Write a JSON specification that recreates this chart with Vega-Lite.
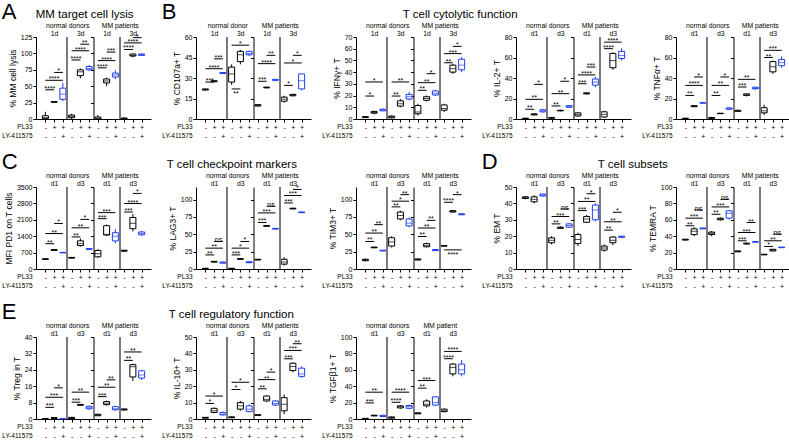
{
"$schema":"https://vega.github.io/schema/vega-lite/v6.json",
"padding":{"left":1,"top":0,"right":0,"bottom":0},
"config":{"font":"Liberation Sans","view":{"stroke":null},
"axis":{"domainColor":"#000","tickColor":"#000","labelColor":"#000","titleColor":"#000","labelFontSize":7,"titleFontSize":8.5,"titleFontWeight":"normal","tickSize":3,"grid":false,"labelPadding":1,"titlePadding":3},
"title":{"fontWeight":"normal","color":"#000","fontSize":11.5,"offset":2},
"concat":{"spacing":10},"rule":{"color":"#000"},"text":{"color":"#000"}},
"data":{"values":[
{"ch":"A","p":1,"c":"c","mn":0,"q1":0.5,"md":2,"q3":5,"mx":11},
{"ch":"A","p":2,"c":"p","mn":25,"q1":25.5,"md":26,"q3":26.5,"mx":27},
{"ch":"A","p":3,"c":"l","mn":27,"q1":30,"md":38,"q3":47,"mx":55},
{"ch":"A","p":4,"c":"c","mn":0,"q1":2,"md":4,"q3":6,"mx":8},
{"ch":"A","p":5,"c":"p","mn":62,"q1":66,"md":72,"q3":75,"mx":77},
{"ch":"A","p":6,"c":"l","mn":73,"q1":75,"md":77,"q3":80,"mx":82},
{"ch":"A","p":7,"c":"c","mn":0,"q1":0,"md":1,"q3":3,"mx":6},
{"ch":"A","p":8,"c":"p","mn":50,"q1":55,"md":58,"q3":61,"mx":63},
{"ch":"A","p":9,"c":"l","mn":61,"q1":64,"md":67,"q3":70,"mx":74},
{"ch":"A","p":10,"c":"c","mn":0,"q1":0,"md":1,"q3":1.5,"mx":2},
{"ch":"A","p":11,"c":"p","mn":94,"q1":96,"md":97,"q3":99,"mx":100},
{"ch":"A","p":12,"c":"l","mn":96,"q1":97,"md":98,"q3":99,"mx":100},
{"ch":"B1","p":1,"c":"c","mn":21,"q1":21.2,"md":21.5,"q3":22,"mx":22.3},
{"ch":"B1","p":2,"c":"p","mn":27,"q1":27.3,"md":27.7,"q3":28,"mx":28.3},
{"ch":"B1","p":3,"c":"l","mn":33,"q1":33.3,"md":33.7,"q3":34,"mx":34.3},
{"ch":"B1","p":4,"c":"c","mn":25,"q1":27,"md":33,"q3":38,"mx":40},
{"ch":"B1","p":5,"c":"p","mn":40,"q1":42,"md":47,"q3":49.5,"mx":50.5},
{"ch":"B1","p":6,"c":"l","mn":46,"q1":47,"md":48,"q3":49.5,"mx":50},
{"ch":"B1","p":7,"c":"c","mn":9,"q1":9.5,"md":10,"q3":10.5,"mx":11},
{"ch":"B1","p":8,"c":"p","mn":22.5,"q1":22.8,"md":23,"q3":23.3,"mx":23.6},
{"ch":"B1","p":9,"c":"l","mn":28,"q1":28.3,"md":28.6,"q3":29,"mx":29.3},
{"ch":"B1","p":10,"c":"c","mn":12,"q1":13,"md":14.5,"q3":16,"mx":17},
{"ch":"B1","p":11,"c":"p","mn":16.5,"q1":17,"md":17.5,"q3":18,"mx":18.5},
{"ch":"B1","p":12,"c":"l","mn":21,"q1":22,"md":28,"q3":33,"mx":33},
{"ch":"B2","p":1,"c":"c","mn":1,"q1":1.2,"md":1.5,"q3":2,"mx":2.5},
{"ch":"B2","p":2,"c":"p","mn":4,"q1":5,"md":5.5,"q3":6.5,"mx":7},
{"ch":"B2","p":3,"c":"l","mn":6.5,"q1":7,"md":7.7,"q3":8.3,"mx":9},
{"ch":"B2","p":4,"c":"c","mn":0.5,"q1":1,"md":1.8,"q3":2.5,"mx":3},
{"ch":"B2","p":5,"c":"p","mn":10,"q1":11,"md":13,"q3":15.5,"mx":17},
{"ch":"B2","p":6,"c":"l","mn":16,"q1":17,"md":19,"q3":21,"mx":23},
{"ch":"B2","p":7,"c":"c","mn":3,"q1":4.5,"md":6,"q3":11.5,"mx":13},
{"ch":"B2","p":8,"c":"p","mn":15,"q1":16,"md":17.5,"q3":19,"mx":20},
{"ch":"B2","p":9,"c":"l","mn":19.5,"q1":20.5,"md":22,"q3":24,"mx":25},
{"ch":"B2","p":10,"c":"c","mn":6,"q1":7.5,"md":9,"q3":12,"mx":13},
{"ch":"B2","p":11,"c":"p","mn":38.5,"q1":40,"md":43,"q3":46,"mx":47},
{"ch":"B2","p":12,"c":"l","mn":40,"q1":42,"md":46,"q3":51,"mx":53},
{"ch":"B3","p":1,"c":"c","mn":0,"q1":0.2,"md":0.5,"q3":0.8,"mx":1},
{"ch":"B3","p":2,"c":"p","mn":3.5,"q1":4,"md":4.5,"q3":5,"mx":5.5},
{"ch":"B3","p":3,"c":"l","mn":6,"q1":7,"md":8,"q3":9,"mx":10},
{"ch":"B3","p":4,"c":"c","mn":0.5,"q1":0.8,"md":1,"q3":1.5,"mx":2},
{"ch":"B3","p":5,"c":"p","mn":7.5,"q1":8,"md":8.2,"q3":8.5,"mx":9},
{"ch":"B3","p":6,"c":"l","mn":11,"q1":11.5,"md":12,"q3":13,"mx":13.5},
{"ch":"B3","p":7,"c":"c","mn":2,"q1":3,"md":4.5,"q3":6,"mx":7},
{"ch":"B3","p":8,"c":"p","mn":24,"q1":24.5,"md":25,"q3":25.5,"mx":26},
{"ch":"B3","p":9,"c":"l","mn":31,"q1":33,"md":36,"q3":39,"mx":41},
{"ch":"B3","p":10,"c":"c","mn":1,"q1":2,"md":4.5,"q3":7,"mx":8},
{"ch":"B3","p":11,"c":"p","mn":48,"q1":50,"md":57,"q3":64,"mx":65},
{"ch":"B3","p":12,"c":"l","mn":57,"q1":59,"md":62,"q3":66,"mx":69},
{"ch":"B4","p":1,"c":"c","mn":0,"q1":0.2,"md":0.5,"q3":0.8,"mx":1},
{"ch":"B4","p":2,"c":"p","mn":11.5,"q1":12,"md":12.5,"q3":13,"mx":13.5},
{"ch":"B4","p":3,"c":"l","mn":15.3,"q1":15.5,"md":15.7,"q3":15.9,"mx":16.1},
{"ch":"B4","p":4,"c":"c","mn":0.3,"q1":0.6,"md":1,"q3":1.5,"mx":2},
{"ch":"B4","p":5,"c":"p","mn":5,"q1":5.2,"md":5.4,"q3":5.6,"mx":5.8},
{"ch":"B4","p":6,"c":"l","mn":9,"q1":9.5,"md":10,"q3":10.8,"mx":11.5},
{"ch":"B4","p":7,"c":"c","mn":7,"q1":7.5,"md":8,"q3":8.5,"mx":9},
{"ch":"B4","p":8,"c":"p","mn":22,"q1":23,"md":23.5,"q3":24.5,"mx":25},
{"ch":"B4","p":9,"c":"l","mn":28.5,"q1":29.5,"md":30,"q3":31,"mx":31.5},
{"ch":"B4","p":10,"c":"c","mn":4,"q1":6,"md":8,"q3":11,"mx":14},
{"ch":"B4","p":11,"c":"p","mn":44,"q1":46,"md":51,"q3":56,"mx":57},
{"ch":"B4","p":12,"c":"l","mn":50,"q1":52,"md":55,"q3":58,"mx":61},
{"ch":"C1","p":1,"c":"c","mn":400,"q1":410,"md":420,"q3":435,"mx":445},
{"ch":"C1","p":2,"c":"p","mn":770,"q1":790,"md":810,"q3":830,"mx":850},
{"ch":"C1","p":3,"c":"l","mn":680,"q1":690,"md":700,"q3":710,"mx":720},
{"ch":"C1","p":4,"c":"c","mn":450,"q1":465,"md":480,"q3":495,"mx":510},
{"ch":"C1","p":5,"c":"p","mn":950,"q1":1000,"md":1080,"q3":1200,"mx":1300},
{"ch":"C1","p":6,"c":"l","mn":820,"q1":840,"md":855,"q3":870,"mx":890},
{"ch":"C1","p":7,"c":"c","mn":480,"q1":520,"md":650,"q3":790,"mx":850},
{"ch":"C1","p":8,"c":"p","mn":1420,"q1":1450,"md":1480,"q3":1850,"mx":1900},
{"ch":"C1","p":9,"c":"l","mn":1100,"q1":1200,"md":1400,"q3":1550,"mx":1700},
{"ch":"C1","p":10,"c":"c","mn":740,"q1":760,"md":780,"q3":800,"mx":820},
{"ch":"C1","p":11,"c":"p","mn":1600,"q1":1720,"md":1950,"q3":2200,"mx":2350},
{"ch":"C1","p":12,"c":"l","mn":1420,"q1":1460,"md":1520,"q3":1580,"mx":1620},
{"ch":"C2","p":1,"c":"c","mn":0.3,"q1":0.5,"md":0.8,"q3":1,"mx":1.2},
{"ch":"C2","p":2,"c":"p","mn":9.5,"q1":10,"md":10.5,"q3":11,"mx":11.5},
{"ch":"C2","p":3,"c":"l","mn":8,"q1":8.5,"md":9,"q3":10,"mx":10.5},
{"ch":"C2","p":4,"c":"c","mn":0.3,"q1":0.5,"md":0.8,"q3":1,"mx":1.2},
{"ch":"C2","p":5,"c":"p","mn":13.5,"q1":14,"md":14.5,"q3":15,"mx":15.5},
{"ch":"C2","p":6,"c":"l","mn":8.5,"q1":9,"md":9.5,"q3":10.5,"mx":11},
{"ch":"C2","p":7,"c":"c","mn":12.5,"q1":13,"md":13.5,"q3":14,"mx":14.5},
{"ch":"C2","p":8,"c":"p","mn":61,"q1":61.5,"md":62,"q3":62.5,"mx":63},
{"ch":"C2","p":9,"c":"l","mn":57,"q1":57.5,"md":58,"q3":58.5,"mx":59},
{"ch":"C2","p":10,"c":"c","mn":5,"q1":7,"md":10,"q3":14,"mx":17},
{"ch":"C2","p":11,"c":"p","mn":86,"q1":86.5,"md":87,"q3":87.5,"mx":88},
{"ch":"C2","p":12,"c":"l","mn":80.5,"q1":81,"md":81.5,"q3":82,"mx":82.5},
{"ch":"C3","p":1,"c":"c","mn":11,"q1":12,"md":13,"q3":14,"mx":15},
{"ch":"C3","p":2,"c":"p","mn":30,"q1":30.5,"md":31,"q3":31.5,"mx":32},
{"ch":"C3","p":3,"c":"l","mn":25.5,"q1":26,"md":26.5,"q3":27,"mx":27.5},
{"ch":"C3","p":4,"c":"c","mn":31,"q1":33,"md":39,"q3":45,"mx":47},
{"ch":"C3","p":5,"c":"p","mn":70,"q1":72,"md":77,"q3":82,"mx":84},
{"ch":"C3","p":6,"c":"l","mn":60,"q1":62,"md":66,"q3":72,"mx":74},
{"ch":"C3","p":7,"c":"c","mn":12.5,"q1":13,"md":13.5,"q3":14.5,"mx":15},
{"ch":"C3","p":8,"c":"p","mn":31,"q1":32,"md":34,"q3":36.5,"mx":38},
{"ch":"C3","p":9,"c":"l","mn":26,"q1":26.5,"md":27,"q3":28,"mx":28.5},
{"ch":"C3","p":10,"c":"c","mn":32.5,"q1":33,"md":33.3,"q3":33.6,"mx":34},
{"ch":"C3","p":11,"c":"p","mn":81,"q1":82,"md":83,"q3":84,"mx":85},
{"ch":"C3","p":12,"c":"l","mn":77.5,"q1":78,"md":78.5,"q3":79.5,"mx":80},
{"ch":"D1","p":1,"c":"c","mn":42.5,"q1":43,"md":43.5,"q3":44,"mx":44.5},
{"ch":"D1","p":2,"c":"p","mn":40,"q1":41,"md":42.5,"q3":44,"mx":45},
{"ch":"D1","p":3,"c":"l","mn":44,"q1":44.5,"md":45,"q3":45.7,"mx":46},
{"ch":"D1","p":4,"c":"c","mn":15,"q1":16,"md":17.5,"q3":19,"mx":20},
{"ch":"D1","p":5,"c":"p","mn":24.5,"q1":24.8,"md":25,"q3":25.5,"mx":26},
{"ch":"D1","p":6,"c":"l","mn":25,"q1":25.5,"md":26.5,"q3":27.5,"mx":28},
{"ch":"D1","p":7,"c":"c","mn":14,"q1":15.5,"md":18,"q3":21,"mx":22},
{"ch":"D1","p":8,"c":"p","mn":28,"q1":28.5,"md":30.5,"q3":32,"mx":33},
{"ch":"D1","p":9,"c":"l","mn":29,"q1":30,"md":36,"q3":39,"mx":40},
{"ch":"D1","p":10,"c":"c","mn":10.5,"q1":11.5,"md":12.8,"q3":14,"mx":15},
{"ch":"D1","p":11,"c":"p","mn":14.5,"q1":16,"md":17.5,"q3":19.5,"mx":20},
{"ch":"D1","p":12,"c":"l","mn":19,"q1":19.3,"md":19.6,"q3":20,"mx":20.3},
{"ch":"D2","p":1,"c":"c","mn":35,"q1":35.3,"md":35.8,"q3":36.3,"mx":36.6},
{"ch":"D2","p":2,"c":"p","mn":40,"q1":42,"md":46,"q3":49,"mx":51},
{"ch":"D2","p":3,"c":"l","mn":48.5,"q1":49,"md":49.4,"q3":50,"mx":50.3},
{"ch":"D2","p":4,"c":"c","mn":40,"q1":42,"md":43.5,"q3":45,"mx":46.5},
{"ch":"D2","p":5,"c":"p","mn":59,"q1":60,"md":61,"q3":62,"mx":63},
{"ch":"D2","p":6,"c":"l","mn":60,"q1":62,"md":68,"q3":71,"mx":72},
{"ch":"D2","p":7,"c":"c","mn":20.5,"q1":21,"md":21.5,"q3":22,"mx":22.5},
{"ch":"D2","p":8,"c":"p","mn":30,"q1":30.5,"md":31,"q3":31.5,"mx":32},
{"ch":"D2","p":9,"c":"l","mn":32.5,"q1":32.8,"md":33,"q3":33.3,"mx":33.6},
{"ch":"D2","p":10,"c":"c","mn":17,"q1":17.3,"md":17.6,"q3":18,"mx":18.3},
{"ch":"D2","p":11,"c":"p","mn":21.5,"q1":22,"md":23,"q3":24,"mx":24.5},
{"ch":"D2","p":12,"c":"l","mn":25.5,"q1":26,"md":26.3,"q3":26.7,"mx":27},
{"ch":"E1","p":1,"c":"c","mn":0,"q1":0.05,"md":0.1,"q3":0.15,"mx":0.2},
{"ch":"E1","p":2,"c":"p","mn":0.2,"q1":0.3,"md":0.5,"q3":0.7,"mx":0.8},
{"ch":"E1","p":3,"c":"l","mn":0,"q1":0.05,"md":0.1,"q3":0.15,"mx":0.2},
{"ch":"E1","p":4,"c":"c","mn":0,"q1":0.2,"md":0.4,"q3":0.8,"mx":1},
{"ch":"E1","p":5,"c":"p","mn":6.5,"q1":6.7,"md":6.9,"q3":7.1,"mx":7.3},
{"ch":"E1","p":6,"c":"l","mn":4.5,"q1":5,"md":5.5,"q3":6.2,"mx":6.5},
{"ch":"E1","p":7,"c":"c","mn":1.4,"q1":1.6,"md":2,"q3":2.3,"mx":2.6},
{"ch":"E1","p":8,"c":"p","mn":6.5,"q1":7,"md":7.7,"q3":8.5,"mx":9},
{"ch":"E1","p":9,"c":"l","mn":4,"q1":4.5,"md":5,"q3":6,"mx":6.5},
{"ch":"E1","p":10,"c":"c","mn":4.2,"q1":4.4,"md":4.6,"q3":4.9,"mx":5.1},
{"ch":"E1","p":11,"c":"p","mn":18.5,"q1":20.5,"md":25.5,"q3":26.5,"mx":27},
{"ch":"E1","p":12,"c":"l","mn":19,"q1":20,"md":21.5,"q3":23.5,"mx":24},
{"ch":"E2","p":1,"c":"c","mn":0.3,"q1":0.5,"md":0.8,"q3":1,"mx":1.2},
{"ch":"E2","p":2,"c":"p","mn":3.5,"q1":4,"md":5,"q3":6.5,"mx":7},
{"ch":"E2","p":3,"c":"l","mn":2,"q1":2.5,"md":3,"q3":4,"mx":4.5},
{"ch":"E2","p":4,"c":"c","mn":0.5,"q1":0.8,"md":1,"q3":1.3,"mx":1.6},
{"ch":"E2","p":5,"c":"p","mn":5,"q1":6,"md":8,"q3":10,"mx":11},
{"ch":"E2","p":6,"c":"l","mn":4,"q1":4.5,"md":6,"q3":8,"mx":9},
{"ch":"E2","p":7,"c":"c","mn":2,"q1":2.2,"md":2.4,"q3":2.6,"mx":2.8},
{"ch":"E2","p":8,"c":"p","mn":10.5,"q1":11,"md":12,"q3":14,"mx":14.5},
{"ch":"E2","p":9,"c":"l","mn":8,"q1":8.5,"md":9.5,"q3":11,"mx":11.5},
{"ch":"E2","p":10,"c":"c","mn":3,"q1":5,"md":9,"q3":13,"mx":15},
{"ch":"E2","p":11,"c":"p","mn":28.5,"q1":29.5,"md":32,"q3":34,"mx":34.5},
{"ch":"E2","p":12,"c":"l","mn":25,"q1":26,"md":27.5,"q3":31,"mx":32},
{"ch":"E3","p":1,"c":"c","mn":0.2,"q1":0.4,"md":0.6,"q3":0.8,"mx":1},
{"ch":"E3","p":2,"c":"p","mn":3.5,"q1":3.8,"md":4.2,"q3":4.6,"mx":5},
{"ch":"E3","p":3,"c":"l","mn":2.5,"q1":3,"md":3.8,"q3":4.5,"mx":5},
{"ch":"E3","p":4,"c":"c","mn":0.5,"q1":1,"md":1.8,"q3":2.5,"mx":3},
{"ch":"E3","p":5,"c":"p","mn":12.5,"q1":13.5,"md":15,"q3":16,"mx":17},
{"ch":"E3","p":6,"c":"l","mn":12,"q1":13,"md":15,"q3":16.5,"mx":17.5},
{"ch":"E3","p":7,"c":"c","mn":6,"q1":6.3,"md":7,"q3":7.5,"mx":8},
{"ch":"E3","p":8,"c":"p","mn":14,"q1":16,"md":18,"q3":22,"mx":24},
{"ch":"E3","p":9,"c":"l","mn":16,"q1":17,"md":20,"q3":27,"mx":28},
{"ch":"E3","p":10,"c":"c","mn":8,"q1":9,"md":10,"q3":12,"mx":13},
{"ch":"E3","p":11,"c":"p","mn":52,"q1":55,"md":63,"q3":67,"mx":68},
{"ch":"E3","p":12,"c":"l","mn":52,"q1":55,"md":60,"q3":67,"mx":72},
{"ch":"A","a":1,"b":2,"m":1.5,"y":44.5,"s":"****","sd":"a"},
{"ch":"A","a":1,"b":3,"m":2,"y":59,"s":"****","sd":"a"},
{"ch":"A","a":2,"b":3,"m":2.5,"y":71,"s":"*","sd":"a"},
{"ch":"A","a":4,"b":5,"m":4.5,"y":90,"s":"****","sd":"a"},
{"ch":"A","a":4,"b":6,"m":5,"y":104,"s":"****","sd":"a"},
{"ch":"A","a":5,"b":6,"m":5.5,"y":114,"s":"**","sd":"a"},
{"ch":"A","a":7,"b":8,"m":7.5,"y":78,"s":"****","sd":"a"},
{"ch":"A","a":7,"b":9,"m":8,"y":89,"s":"****","sd":"a"},
{"ch":"A","a":8,"b":9,"m":8.5,"y":102,"s":"***","sd":"a"},
{"ch":"A","a":10,"b":11,"m":10.5,"y":106,"s":"****","sd":"a"},
{"ch":"A","a":10,"b":12,"m":11,"y":116,"s":"****","sd":"a"},
{"ch":"A","a":11,"b":12,"m":11.5,"y":124,"s":"*","sd":"a"},
{"ch":"B1","a":1,"b":2,"m":1.5,"y":27,"s":"***","sd":"a"},
{"ch":"B1","a":1,"b":3,"m":2,"y":36.8,"s":"****","sd":"a"},
{"ch":"B1","a":2,"b":3,"m":2.5,"y":44,"s":"***","sd":"a"},
{"ch":"B1","a":4,"b":6,"m":5,"y":54,"s":"*","sd":"a"},
{"ch":"B1","a":4,"b":5,"m":4.5,"y":22,"s":"**","sd":"b"},
{"ch":"B1","a":7,"b":8,"m":7.5,"y":27.6,"s":"***","sd":"a"},
{"ch":"B1","a":7,"b":9,"m":8,"y":40.5,"s":"****","sd":"a"},
{"ch":"B1","a":8,"b":9,"m":8.5,"y":46.6,"s":"**","sd":"a"},
{"ch":"B1","a":10,"b":11,"m":10.5,"y":24.6,"s":"*","sd":"a"},
{"ch":"B1","a":10,"b":12,"m":11,"y":41,"s":"*","sd":"a"},
{"ch":"B1","a":11,"b":12,"m":11.5,"y":46.6,"s":"*","sd":"a"},
{"ch":"B2","a":1,"b":2,"m":1.5,"y":19.6,"s":"*","sd":"a"},
{"ch":"B2","a":1,"b":3,"m":2,"y":31.6,"s":"*","sd":"a"},
{"ch":"B2","a":4,"b":5,"m":4.5,"y":19.6,"s":"**","sd":"a"},
{"ch":"B2","a":4,"b":6,"m":5,"y":31.6,"s":"**","sd":"a"},
{"ch":"B2","a":7,"b":8,"m":7.5,"y":24.5,"s":"**","sd":"a"},
{"ch":"B2","a":7,"b":9,"m":8,"y":31,"s":"**","sd":"a"},
{"ch":"B2","a":8,"b":9,"m":8.5,"y":38.7,"s":"*","sd":"a"},
{"ch":"B2","a":10,"b":11,"m":10.5,"y":48,"s":"**","sd":"a"},
{"ch":"B2","a":10,"b":12,"m":11,"y":55.8,"s":"***","sd":"a"},
{"ch":"B2","a":11,"b":12,"m":11.5,"y":62,"s":"*","sd":"a"},
{"ch":"B3","a":1,"b":2,"m":1.5,"y":9.5,"s":"**","sd":"a"},
{"ch":"B3","a":1,"b":3,"m":2,"y":19.2,"s":"**","sd":"a"},
{"ch":"B3","a":2,"b":3,"m":2.5,"y":33.8,"s":"*","sd":"a"},
{"ch":"B3","a":4,"b":5,"m":4.5,"y":12.7,"s":"**","sd":"a"},
{"ch":"B3","a":4,"b":6,"m":5,"y":24.7,"s":"**","sd":"a"},
{"ch":"B3","a":5,"b":6,"m":5.5,"y":36.8,"s":"*","sd":"a"},
{"ch":"B3","a":7,"b":8,"m":7.5,"y":34.4,"s":"***","sd":"a"},
{"ch":"B3","a":7,"b":9,"m":8,"y":43,"s":"****","sd":"a"},
{"ch":"B3","a":8,"b":9,"m":8.5,"y":50.7,"s":"***","sd":"a"},
{"ch":"B3","a":10,"b":11,"m":10.5,"y":68.6,"s":"****","sd":"a"},
{"ch":"B3","a":10,"b":12,"m":11,"y":75,"s":"****","sd":"a"},
{"ch":"B4","a":1,"b":2,"m":1.5,"y":23,"s":"**","sd":"a"},
{"ch":"B4","a":1,"b":3,"m":2,"y":32.8,"s":"****","sd":"a"},
{"ch":"B4","a":2,"b":3,"m":2.5,"y":41,"s":"*","sd":"a"},
{"ch":"B4","a":4,"b":5,"m":4.5,"y":23,"s":"**","sd":"a"},
{"ch":"B4","a":4,"b":6,"m":5,"y":32.8,"s":"**","sd":"a"},
{"ch":"B4","a":5,"b":6,"m":5.5,"y":41,"s":"*","sd":"a"},
{"ch":"B4","a":7,"b":8,"m":7.5,"y":31.2,"s":"***","sd":"a"},
{"ch":"B4","a":7,"b":9,"m":8,"y":38.7,"s":"**","sd":"a"},
{"ch":"B4","a":10,"b":11,"m":10.5,"y":60,"s":"**","sd":"a"},
{"ch":"B4","a":10,"b":12,"m":11,"y":67,"s":"***","sd":"a"},
{"ch":"C1","a":1,"b":2,"m":1.5,"y":1080,"s":"**","sd":"a"},
{"ch":"C1","a":1,"b":3,"m":2,"y":1512,"s":"**","sd":"a"},
{"ch":"C1","a":2,"b":3,"m":2.5,"y":1944,"s":"*","sd":"a"},
{"ch":"C1","a":4,"b":5,"m":4.5,"y":1369,"s":"**","sd":"a"},
{"ch":"C1","a":4,"b":6,"m":5,"y":1758,"s":"**","sd":"a"},
{"ch":"C1","a":5,"b":6,"m":5.5,"y":2117,"s":"*","sd":"a"},
{"ch":"C1","a":7,"b":8,"m":7.5,"y":2147,"s":"***","sd":"a"},
{"ch":"C1","a":7,"b":9,"m":8,"y":2406,"s":"***","sd":"a"},
{"ch":"C1","a":10,"b":11,"m":10.5,"y":2432,"s":"***","sd":"a"},
{"ch":"C1","a":10,"b":12,"m":11,"y":2795,"s":"****","sd":"a"},
{"ch":"C1","a":11,"b":12,"m":11.5,"y":3227,"s":"*","sd":"a"},
{"ch":"C2","a":1,"b":2,"m":1.5,"y":20.3,"s":"**","sd":"a"},
{"ch":"C2","a":1,"b":3,"m":2,"y":30,"s":"**","sd":"a"},
{"ch":"C2","a":2,"b":3,"m":2.5,"y":39.6,"s":"ns","sd":"a"},
{"ch":"C2","a":4,"b":5,"m":4.5,"y":20.3,"s":"***","sd":"a"},
{"ch":"C2","a":4,"b":6,"m":5,"y":30,"s":"*","sd":"a"},
{"ch":"C2","a":5,"b":6,"m":5.5,"y":39.6,"s":"*","sd":"a"},
{"ch":"C2","a":7,"b":8,"m":7.5,"y":67,"s":"***","sd":"a"},
{"ch":"C2","a":7,"b":9,"m":8,"y":80.7,"s":"***","sd":"a"},
{"ch":"C2","a":8,"b":9,"m":8.5,"y":90.3,"s":"ns","sd":"a"},
{"ch":"C2","a":10,"b":11,"m":10.5,"y":95,"s":"***","sd":"a"},
{"ch":"C2","a":10,"b":12,"m":11,"y":105.8,"s":"***","sd":"a"},
{"ch":"C2","a":11,"b":12,"m":11.5,"y":114.5,"s":"*","sd":"a"},
{"ch":"C3","a":1,"b":2,"m":1.5,"y":39.6,"s":"**","sd":"a"},
{"ch":"C3","a":1,"b":3,"m":2,"y":51.7,"s":"**","sd":"a"},
{"ch":"C3","a":2,"b":3,"m":2.5,"y":63.8,"s":"**","sd":"a"},
{"ch":"C3","a":4,"b":5,"m":4.5,"y":89.4,"s":"**","sd":"a"},
{"ch":"C3","a":4,"b":6,"m":5,"y":97.6,"s":"*","sd":"a"},
{"ch":"C3","a":5,"b":6,"m":5.5,"y":107,"s":"**","sd":"a"},
{"ch":"C3","a":7,"b":8,"m":7.5,"y":46.8,"s":"**","sd":"a"},
{"ch":"C3","a":7,"b":9,"m":8,"y":59,"s":"**","sd":"a"},
{"ch":"C3","a":8,"b":9,"m":8.5,"y":70,"s":"**","sd":"a"},
{"ch":"C3","a":10,"b":11,"m":10.5,"y":96,"s":"****","sd":"a"},
{"ch":"C3","a":11,"b":12,"m":11.5,"y":107,"s":"*","sd":"a"},
{"ch":"C3","a":10,"b":12,"m":11,"y":27.5,"s":"****","sd":"b"},
{"ch":"D1","a":4,"b":5,"m":4.5,"y":27.5,"s":"**","sd":"a"},
{"ch":"D1","a":4,"b":6,"m":5,"y":32,"s":"***","sd":"a"},
{"ch":"D1","a":5,"b":6,"m":5.5,"y":36.6,"s":"ns","sd":"a"},
{"ch":"D1","a":7,"b":8,"m":7.5,"y":35.6,"s":"***","sd":"a"},
{"ch":"D1","a":7,"b":9,"m":8,"y":41.2,"s":"**","sd":"a"},
{"ch":"D1","a":8,"b":9,"m":8.5,"y":45.9,"s":"*","sd":"a"},
{"ch":"D1","a":10,"b":11,"m":10.5,"y":23.7,"s":"**","sd":"a"},
{"ch":"D1","a":10,"b":12,"m":11,"y":28.8,"s":"**","sd":"a"},
{"ch":"D1","a":11,"b":12,"m":11.5,"y":34.6,"s":"*","sd":"a"},
{"ch":"D2","a":1,"b":2,"m":1.5,"y":52.7,"s":"**","sd":"a"},
{"ch":"D2","a":1,"b":3,"m":2,"y":62,"s":"***","sd":"a"},
{"ch":"D2","a":2,"b":3,"m":2.5,"y":72,"s":"ns","sd":"a"},
{"ch":"D2","a":4,"b":5,"m":4.5,"y":66.8,"s":"**","sd":"a"},
{"ch":"D2","a":4,"b":6,"m":5,"y":75.7,"s":"***","sd":"a"},
{"ch":"D2","a":5,"b":6,"m":5.5,"y":85,"s":"ns","sd":"a"},
{"ch":"D2","a":7,"b":8,"m":7.5,"y":34.4,"s":"***","sd":"a"},
{"ch":"D2","a":7,"b":9,"m":8,"y":44.5,"s":"***","sd":"a"},
{"ch":"D2","a":8,"b":9,"m":8.5,"y":56.7,"s":"**","sd":"a"},
{"ch":"D2","a":10,"b":11,"m":10.5,"y":27.5,"s":"*","sd":"a"},
{"ch":"D2","a":10,"b":12,"m":11,"y":34.4,"s":"**","sd":"a"},
{"ch":"D2","a":11,"b":12,"m":11.5,"y":42.5,"s":"ns","sd":"a"},
{"ch":"E1","a":1,"b":2,"m":1.5,"y":5.7,"s":"***","sd":"a"},
{"ch":"E1","a":1,"b":3,"m":2,"y":10.6,"s":"***","sd":"a"},
{"ch":"E1","a":2,"b":3,"m":2.5,"y":15.2,"s":"*","sd":"a"},
{"ch":"E1","a":4,"b":5,"m":4.5,"y":8.2,"s":"***","sd":"a"},
{"ch":"E1","a":4,"b":6,"m":5,"y":13.1,"s":"**","sd":"a"},
{"ch":"E1","a":7,"b":8,"m":7.5,"y":10.9,"s":"***","sd":"a"},
{"ch":"E1","a":7,"b":9,"m":8,"y":15.5,"s":"**","sd":"a"},
{"ch":"E1","a":8,"b":9,"m":8.5,"y":19.1,"s":"**","sd":"a"},
{"ch":"E1","a":10,"b":11,"m":10.5,"y":28.6,"s":"**","sd":"a"},
{"ch":"E1","a":10,"b":12,"m":11,"y":32.7,"s":"**","sd":"a"},
{"ch":"E2","a":1,"b":2,"m":1.5,"y":9.5,"s":"*","sd":"a"},
{"ch":"E2","a":1,"b":3,"m":2,"y":14,"s":"*","sd":"a"},
{"ch":"E2","a":4,"b":5,"m":4.5,"y":18,"s":"*","sd":"a"},
{"ch":"E2","a":4,"b":6,"m":5,"y":22.4,"s":"*","sd":"a"},
{"ch":"E2","a":7,"b":8,"m":7.5,"y":18.4,"s":"**","sd":"a"},
{"ch":"E2","a":7,"b":9,"m":8,"y":24,"s":"**","sd":"a"},
{"ch":"E2","a":8,"b":9,"m":8.5,"y":28.6,"s":"*","sd":"a"},
{"ch":"E2","a":10,"b":11,"m":10.5,"y":36.7,"s":"***","sd":"a"},
{"ch":"E2","a":10,"b":12,"m":11,"y":41.8,"s":"***","sd":"a"},
{"ch":"E2","a":11,"b":12,"m":11.5,"y":45.9,"s":"**","sd":"a"},
{"ch":"E3","a":1,"b":2,"m":1.5,"y":19.6,"s":"***","sd":"a"},
{"ch":"E3","a":1,"b":3,"m":2,"y":32.7,"s":"**","sd":"a"},
{"ch":"E3","a":4,"b":5,"m":4.5,"y":20.4,"s":"****","sd":"a"},
{"ch":"E3","a":4,"b":6,"m":5,"y":32.7,"s":"****","sd":"a"},
{"ch":"E3","a":7,"b":8,"m":7.5,"y":37.6,"s":"**","sd":"a"},
{"ch":"E3","a":7,"b":9,"m":8,"y":46.9,"s":"***","sd":"a"},
{"ch":"E3","a":10,"b":11,"m":10.5,"y":73.5,"s":"****","sd":"a"},
{"ch":"E3","a":10,"b":12,"m":11,"y":82.4,"s":"****","sd":"a"}
]},
"spacing":10,
"vconcat":[
{"hconcat":[
{"title":{"text":"A","fontSize":22,"anchor":"start","offset":-15},"hconcat":[{"title":{"text":"MM target cell lysis","dx":34},"hconcat":[
{"width":115,"height":82,"transform":[{"filter":"datum.ch=='A'"}],"layer":[
{"mark":"rule","encoding":{"x":{"field":"p","type":"quantitative","scale":{"domain":[0.5,12.5],"nice":false,"zero":false},"axis":{"orient":"bottom","values":[1,2,3,4,5,6,7,8,9,10,11,12],"labelExpr":"datum.value%3==1?['-','-']:datum.value%3==2?['+','-']:['+','+']","labelFontSize":7,"labelLineHeight":9.5,"labelFlush":false,"labelOverlap":false,"title":["PL33","LY-411575"],"titleX":-4,"titleY":4,"titleAlign":"right","titleBaseline":"top","titleFontSize":6.5,"titleLineHeight":9.5}},"y":{"field":"mn","type":"quantitative","scale":{"domain":[0,125],"nice":false},"axis":{"orient":"left","title":"% MM cell lysis","values":[0,25,50,75,100,125]}},"y2":{"field":"mx"},"color":{"field":"c","type":"nominal","scale":{"domain":["c","p","l"],"range":["#000","#000","#1f3ff5"]},"legend":null}}},
{"mark":{"type":"bar","fill":"#fff","size":6,"strokeWidth":1},"encoding":{"x":{"field":"p","type":"quantitative","axis":null},"y":{"field":"q1","type":"quantitative","axis":null},"y2":{"field":"q3"},"stroke":{"field":"c","type":"nominal","scale":{"domain":["c","p","l"],"range":["#000","#000","#1f3ff5"]},"legend":null}}},
{"mark":{"type":"tick","orient":"horizontal","size":6,"thickness":1},"encoding":{"x":{"field":"p","type":"quantitative","axis":null},"y":{"field":"md","type":"quantitative","axis":null},"color":{"field":"c","type":"nominal","scale":{"domain":["c","p","l"],"range":["#000","#000","#1f3ff5"]},"legend":null}}},
{"mark":{"type":"rule","color":"#7a7a7a","strokeWidth":1.5},"encoding":{"x":{"datum":3.5,"axis":{"orient":"top","values":[2,3.5,5,8,9.5,11],"labelExpr":"datum.value==3.5?'normal donors':datum.value==9.5?'MM patients':[' ',datum.value%6==2?'1d':'3d']","domain":false,"ticks":false,"title":null,"labelPadding":9,"labelFontSize":6.8,"labelLineHeight":8,"labelFlush":false,"labelOverlap":false}}}},
{"mark":{"type":"rule","color":"#7a7a7a","strokeWidth":1.5},"encoding":{"x":{"datum":9.5,"axis":null}}},
{"mark":{"type":"text","text":" "},"encoding":{"x":{"datum":6.5,"axis":null},"y":{"datum":0,"axis":{"orient":"left","labels":false,"title":null,"values":[0,25,50,75,100,125],"offset":-57.5}}}},
{"mark":"rule","encoding":{"x":{"field":"a","type":"quantitative","axis":null},"x2":{"field":"b"},"y":{"field":"y","type":"quantitative","axis":null}}},
{"transform":[{"filter":"datum.sd=='a'"}],"mark":{"type":"text","fontSize":7,"baseline":"bottom","dy":2},"encoding":{"x":{"field":"m","type":"quantitative","axis":null},"y":{"field":"y","type":"quantitative","axis":null},"text":{"field":"s"}}},
{"transform":[{"filter":"datum.sd=='b'"}],"mark":{"type":"text","fontSize":7,"baseline":"top","dy":1},"encoding":{"x":{"field":"m","type":"quantitative","axis":null},"y":{"field":"y","type":"quantitative","axis":null},"text":{"field":"s"}}}
],"resolve":{"axis":{"x":"independent","y":"independent"}}}
]}]},
{"title":{"text":"B","fontSize":22,"anchor":"start","offset":-15},"hconcat":[{"title":{"text":"T cell cytolytic function","dx":241},"hconcat":[
{"width":115,"height":82,"transform":[{"filter":"datum.ch=='B1'"}],"layer":[
{"mark":"rule","encoding":{"x":{"field":"p","type":"quantitative","scale":{"domain":[0.5,12.5],"nice":false,"zero":false},"axis":{"orient":"bottom","values":[1,2,3,4,5,6,7,8,9,10,11,12],"labelExpr":"datum.value%3==1?['-','-']:datum.value%3==2?['+','-']:['+','+']","labelFontSize":7,"labelLineHeight":9.5,"labelFlush":false,"labelOverlap":false,"title":["PL33","LY-411575"],"titleX":-4,"titleY":4,"titleAlign":"right","titleBaseline":"top","titleFontSize":6.5,"titleLineHeight":9.5}},"y":{"field":"mn","type":"quantitative","scale":{"domain":[0,60],"nice":false},"axis":{"orient":"left","title":"% CD107a+ T","values":[0,15,30,45,60]}},"y2":{"field":"mx"},"color":{"field":"c","type":"nominal","scale":{"domain":["c","p","l"],"range":["#000","#000","#1f3ff5"]},"legend":null}}},
{"mark":{"type":"bar","fill":"#fff","size":6,"strokeWidth":1},"encoding":{"x":{"field":"p","type":"quantitative","axis":null},"y":{"field":"q1","type":"quantitative","axis":null},"y2":{"field":"q3"},"stroke":{"field":"c","type":"nominal","scale":{"domain":["c","p","l"],"range":["#000","#000","#1f3ff5"]},"legend":null}}},
{"mark":{"type":"tick","orient":"horizontal","size":6,"thickness":1},"encoding":{"x":{"field":"p","type":"quantitative","axis":null},"y":{"field":"md","type":"quantitative","axis":null},"color":{"field":"c","type":"nominal","scale":{"domain":["c","p","l"],"range":["#000","#000","#1f3ff5"]},"legend":null}}},
{"mark":{"type":"rule","color":"#7a7a7a","strokeWidth":1.5},"encoding":{"x":{"datum":3.5,"axis":{"orient":"top","values":[2,3.5,5,8,9.5,11],"labelExpr":"datum.value==3.5?'normal donor':datum.value==9.5?'MM patients':[' ',datum.value%6==2?'1d':'3d']","domain":false,"ticks":false,"title":null,"labelPadding":9,"labelFontSize":6.8,"labelLineHeight":8,"labelFlush":false,"labelOverlap":false}}}},
{"mark":{"type":"rule","color":"#7a7a7a","strokeWidth":1.5},"encoding":{"x":{"datum":9.5,"axis":null}}},
{"mark":{"type":"text","text":" "},"encoding":{"x":{"datum":6.5,"axis":null},"y":{"datum":0,"axis":{"orient":"left","labels":false,"title":null,"values":[0,15,30,45,60],"offset":-57.5}}}},
{"mark":"rule","encoding":{"x":{"field":"a","type":"quantitative","axis":null},"x2":{"field":"b"},"y":{"field":"y","type":"quantitative","axis":null}}},
{"transform":[{"filter":"datum.sd=='a'"}],"mark":{"type":"text","fontSize":7,"baseline":"bottom","dy":2},"encoding":{"x":{"field":"m","type":"quantitative","axis":null},"y":{"field":"y","type":"quantitative","axis":null},"text":{"field":"s"}}},
{"transform":[{"filter":"datum.sd=='b'"}],"mark":{"type":"text","fontSize":7,"baseline":"top","dy":1},"encoding":{"x":{"field":"m","type":"quantitative","axis":null},"y":{"field":"y","type":"quantitative","axis":null},"text":{"field":"s"}}}
],"resolve":{"axis":{"x":"independent","y":"independent"}}},
{"width":115,"height":82,"transform":[{"filter":"datum.ch=='B2'"}],"layer":[
{"mark":"rule","encoding":{"x":{"field":"p","type":"quantitative","scale":{"domain":[0.5,12.5],"nice":false,"zero":false},"axis":{"orient":"bottom","values":[1,2,3,4,5,6,7,8,9,10,11,12],"labelExpr":"datum.value%3==1?['-','-']:datum.value%3==2?['+','-']:['+','+']","labelFontSize":7,"labelLineHeight":9.5,"labelFlush":false,"labelOverlap":false,"title":["PL33","LY-411575"],"titleX":-4,"titleY":4,"titleAlign":"right","titleBaseline":"top","titleFontSize":6.5,"titleLineHeight":9.5}},"y":{"field":"mn","type":"quantitative","scale":{"domain":[0,70],"nice":false},"axis":{"orient":"left","title":"% IFNγ+ T","values":[0,10,20,30,40,50,60,70]}},"y2":{"field":"mx"},"color":{"field":"c","type":"nominal","scale":{"domain":["c","p","l"],"range":["#000","#000","#1f3ff5"]},"legend":null}}},
{"mark":{"type":"bar","fill":"#fff","size":6,"strokeWidth":1},"encoding":{"x":{"field":"p","type":"quantitative","axis":null},"y":{"field":"q1","type":"quantitative","axis":null},"y2":{"field":"q3"},"stroke":{"field":"c","type":"nominal","scale":{"domain":["c","p","l"],"range":["#000","#000","#1f3ff5"]},"legend":null}}},
{"mark":{"type":"tick","orient":"horizontal","size":6,"thickness":1},"encoding":{"x":{"field":"p","type":"quantitative","axis":null},"y":{"field":"md","type":"quantitative","axis":null},"color":{"field":"c","type":"nominal","scale":{"domain":["c","p","l"],"range":["#000","#000","#1f3ff5"]},"legend":null}}},
{"mark":{"type":"rule","color":"#7a7a7a","strokeWidth":1.5},"encoding":{"x":{"datum":3.5,"axis":{"orient":"top","values":[2,3.5,5,8,9.5,11],"labelExpr":"datum.value==3.5?'normal donors':datum.value==9.5?'MM patients':[' ',datum.value%6==2?'1d':'3d']","domain":false,"ticks":false,"title":null,"labelPadding":9,"labelFontSize":6.8,"labelLineHeight":8,"labelFlush":false,"labelOverlap":false}}}},
{"mark":{"type":"rule","color":"#7a7a7a","strokeWidth":1.5},"encoding":{"x":{"datum":9.5,"axis":null}}},
{"mark":{"type":"text","text":" "},"encoding":{"x":{"datum":6.5,"axis":null},"y":{"datum":0,"axis":{"orient":"left","labels":false,"title":null,"values":[0,10,20,30,40,50,60,70],"offset":-57.5}}}},
{"mark":"rule","encoding":{"x":{"field":"a","type":"quantitative","axis":null},"x2":{"field":"b"},"y":{"field":"y","type":"quantitative","axis":null}}},
{"transform":[{"filter":"datum.sd=='a'"}],"mark":{"type":"text","fontSize":7,"baseline":"bottom","dy":2},"encoding":{"x":{"field":"m","type":"quantitative","axis":null},"y":{"field":"y","type":"quantitative","axis":null},"text":{"field":"s"}}},
{"transform":[{"filter":"datum.sd=='b'"}],"mark":{"type":"text","fontSize":7,"baseline":"top","dy":1},"encoding":{"x":{"field":"m","type":"quantitative","axis":null},"y":{"field":"y","type":"quantitative","axis":null},"text":{"field":"s"}}}
],"resolve":{"axis":{"x":"independent","y":"independent"}}},
{"width":115,"height":82,"transform":[{"filter":"datum.ch=='B3'"}],"layer":[
{"mark":"rule","encoding":{"x":{"field":"p","type":"quantitative","scale":{"domain":[0.5,12.5],"nice":false,"zero":false},"axis":{"orient":"bottom","values":[1,2,3,4,5,6,7,8,9,10,11,12],"labelExpr":"datum.value%3==1?['-','-']:datum.value%3==2?['+','-']:['+','+']","labelFontSize":7,"labelLineHeight":9.5,"labelFlush":false,"labelOverlap":false,"title":["PL33","LY-411575"],"titleX":-4,"titleY":4,"titleAlign":"right","titleBaseline":"top","titleFontSize":6.5,"titleLineHeight":9.5}},"y":{"field":"mn","type":"quantitative","scale":{"domain":[0,80],"nice":false},"axis":{"orient":"left","title":"% IL-2+ T","values":[0,20,40,60,80]}},"y2":{"field":"mx"},"color":{"field":"c","type":"nominal","scale":{"domain":["c","p","l"],"range":["#000","#000","#1f3ff5"]},"legend":null}}},
{"mark":{"type":"bar","fill":"#fff","size":6,"strokeWidth":1},"encoding":{"x":{"field":"p","type":"quantitative","axis":null},"y":{"field":"q1","type":"quantitative","axis":null},"y2":{"field":"q3"},"stroke":{"field":"c","type":"nominal","scale":{"domain":["c","p","l"],"range":["#000","#000","#1f3ff5"]},"legend":null}}},
{"mark":{"type":"tick","orient":"horizontal","size":6,"thickness":1},"encoding":{"x":{"field":"p","type":"quantitative","axis":null},"y":{"field":"md","type":"quantitative","axis":null},"color":{"field":"c","type":"nominal","scale":{"domain":["c","p","l"],"range":["#000","#000","#1f3ff5"]},"legend":null}}},
{"mark":{"type":"rule","color":"#7a7a7a","strokeWidth":1.5},"encoding":{"x":{"datum":3.5,"axis":{"orient":"top","values":[2,3.5,5,8,9.5,11],"labelExpr":"datum.value==3.5?'normal donors':datum.value==9.5?'MM patients':[' ',datum.value%6==2?'d1':'d3']","domain":false,"ticks":false,"title":null,"labelPadding":9,"labelFontSize":6.8,"labelLineHeight":8,"labelFlush":false,"labelOverlap":false}}}},
{"mark":{"type":"rule","color":"#7a7a7a","strokeWidth":1.5},"encoding":{"x":{"datum":9.5,"axis":null}}},
{"mark":{"type":"text","text":" "},"encoding":{"x":{"datum":6.5,"axis":null},"y":{"datum":0,"axis":{"orient":"left","labels":false,"title":null,"values":[0,20,40,60,80],"offset":-57.5}}}},
{"mark":"rule","encoding":{"x":{"field":"a","type":"quantitative","axis":null},"x2":{"field":"b"},"y":{"field":"y","type":"quantitative","axis":null}}},
{"transform":[{"filter":"datum.sd=='a'"}],"mark":{"type":"text","fontSize":7,"baseline":"bottom","dy":2},"encoding":{"x":{"field":"m","type":"quantitative","axis":null},"y":{"field":"y","type":"quantitative","axis":null},"text":{"field":"s"}}},
{"transform":[{"filter":"datum.sd=='b'"}],"mark":{"type":"text","fontSize":7,"baseline":"top","dy":1},"encoding":{"x":{"field":"m","type":"quantitative","axis":null},"y":{"field":"y","type":"quantitative","axis":null},"text":{"field":"s"}}}
],"resolve":{"axis":{"x":"independent","y":"independent"}}},
{"width":115,"height":82,"transform":[{"filter":"datum.ch=='B4'"}],"layer":[
{"mark":"rule","encoding":{"x":{"field":"p","type":"quantitative","scale":{"domain":[0.5,12.5],"nice":false,"zero":false},"axis":{"orient":"bottom","values":[1,2,3,4,5,6,7,8,9,10,11,12],"labelExpr":"datum.value%3==1?['-','-']:datum.value%3==2?['+','-']:['+','+']","labelFontSize":7,"labelLineHeight":9.5,"labelFlush":false,"labelOverlap":false,"title":["PL33","LY-411575"],"titleX":-4,"titleY":4,"titleAlign":"right","titleBaseline":"top","titleFontSize":6.5,"titleLineHeight":9.5}},"y":{"field":"mn","type":"quantitative","scale":{"domain":[0,80],"nice":false},"axis":{"orient":"left","title":"% TNFα+ T","values":[0,20,40,60,80]}},"y2":{"field":"mx"},"color":{"field":"c","type":"nominal","scale":{"domain":["c","p","l"],"range":["#000","#000","#1f3ff5"]},"legend":null}}},
{"mark":{"type":"bar","fill":"#fff","size":6,"strokeWidth":1},"encoding":{"x":{"field":"p","type":"quantitative","axis":null},"y":{"field":"q1","type":"quantitative","axis":null},"y2":{"field":"q3"},"stroke":{"field":"c","type":"nominal","scale":{"domain":["c","p","l"],"range":["#000","#000","#1f3ff5"]},"legend":null}}},
{"mark":{"type":"tick","orient":"horizontal","size":6,"thickness":1},"encoding":{"x":{"field":"p","type":"quantitative","axis":null},"y":{"field":"md","type":"quantitative","axis":null},"color":{"field":"c","type":"nominal","scale":{"domain":["c","p","l"],"range":["#000","#000","#1f3ff5"]},"legend":null}}},
{"mark":{"type":"rule","color":"#7a7a7a","strokeWidth":1.5},"encoding":{"x":{"datum":3.5,"axis":{"orient":"top","values":[2,3.5,5,8,9.5,11],"labelExpr":"datum.value==3.5?'normal donors':datum.value==9.5?'MM patients':[' ',datum.value%6==2?'d1':'d3']","domain":false,"ticks":false,"title":null,"labelPadding":9,"labelFontSize":6.8,"labelLineHeight":8,"labelFlush":false,"labelOverlap":false}}}},
{"mark":{"type":"rule","color":"#7a7a7a","strokeWidth":1.5},"encoding":{"x":{"datum":9.5,"axis":null}}},
{"mark":{"type":"text","text":" "},"encoding":{"x":{"datum":6.5,"axis":null},"y":{"datum":0,"axis":{"orient":"left","labels":false,"title":null,"values":[0,20,40,60,80],"offset":-57.5}}}},
{"mark":"rule","encoding":{"x":{"field":"a","type":"quantitative","axis":null},"x2":{"field":"b"},"y":{"field":"y","type":"quantitative","axis":null}}},
{"transform":[{"filter":"datum.sd=='a'"}],"mark":{"type":"text","fontSize":7,"baseline":"bottom","dy":2},"encoding":{"x":{"field":"m","type":"quantitative","axis":null},"y":{"field":"y","type":"quantitative","axis":null},"text":{"field":"s"}}},
{"transform":[{"filter":"datum.sd=='b'"}],"mark":{"type":"text","fontSize":7,"baseline":"top","dy":1},"encoding":{"x":{"field":"m","type":"quantitative","axis":null},"y":{"field":"y","type":"quantitative","axis":null},"text":{"field":"s"}}}
],"resolve":{"axis":{"x":"independent","y":"independent"}}}
]}]}
]},
{"hconcat":[
{"title":{"text":"C","fontSize":22,"anchor":"start","offset":-15},"hconcat":[{"title":{"text":"T cell checkpoint markers","dx":165},"hconcat":[
{"width":115,"height":82,"transform":[{"filter":"datum.ch=='C1'"}],"layer":[
{"mark":"rule","encoding":{"x":{"field":"p","type":"quantitative","scale":{"domain":[0.5,12.5],"nice":false,"zero":false},"axis":{"orient":"bottom","values":[1,2,3,4,5,6,7,8,9,10,11,12],"labelExpr":"datum.value%3==1?['-','-']:datum.value%3==2?['+','-']:['+','+']","labelFontSize":7,"labelLineHeight":9.5,"labelFlush":false,"labelOverlap":false,"title":["PL33","LY-411575"],"titleX":-4,"titleY":4,"titleAlign":"right","titleBaseline":"top","titleFontSize":6.5,"titleLineHeight":9.5}},"y":{"field":"mn","type":"quantitative","scale":{"domain":[0,3500],"nice":false},"axis":{"orient":"left","title":"MFI PD1 on T cells","format":"d","values":[0,700,1400,2100,2800,3500]}},"y2":{"field":"mx"},"color":{"field":"c","type":"nominal","scale":{"domain":["c","p","l"],"range":["#000","#000","#1f3ff5"]},"legend":null}}},
{"mark":{"type":"bar","fill":"#fff","size":6,"strokeWidth":1},"encoding":{"x":{"field":"p","type":"quantitative","axis":null},"y":{"field":"q1","type":"quantitative","axis":null},"y2":{"field":"q3"},"stroke":{"field":"c","type":"nominal","scale":{"domain":["c","p","l"],"range":["#000","#000","#1f3ff5"]},"legend":null}}},
{"mark":{"type":"tick","orient":"horizontal","size":6,"thickness":1},"encoding":{"x":{"field":"p","type":"quantitative","axis":null},"y":{"field":"md","type":"quantitative","axis":null},"color":{"field":"c","type":"nominal","scale":{"domain":["c","p","l"],"range":["#000","#000","#1f3ff5"]},"legend":null}}},
{"mark":{"type":"rule","color":"#7a7a7a","strokeWidth":1.5},"encoding":{"x":{"datum":3.5,"axis":{"orient":"top","values":[2,3.5,5,8,9.5,11],"labelExpr":"datum.value==3.5?'normal donors':datum.value==9.5?'MM patients':[' ',datum.value%6==2?'d1':'d3']","domain":false,"ticks":false,"title":null,"labelPadding":9,"labelFontSize":6.8,"labelLineHeight":8,"labelFlush":false,"labelOverlap":false}}}},
{"mark":{"type":"rule","color":"#7a7a7a","strokeWidth":1.5},"encoding":{"x":{"datum":9.5,"axis":null}}},
{"mark":{"type":"text","text":" "},"encoding":{"x":{"datum":6.5,"axis":null},"y":{"datum":0,"axis":{"orient":"left","labels":false,"title":null,"values":[0,700,1400,2100,2800,3500],"offset":-57.5}}}},
{"mark":"rule","encoding":{"x":{"field":"a","type":"quantitative","axis":null},"x2":{"field":"b"},"y":{"field":"y","type":"quantitative","axis":null}}},
{"transform":[{"filter":"datum.sd=='a'"}],"mark":{"type":"text","fontSize":7,"baseline":"bottom","dy":2},"encoding":{"x":{"field":"m","type":"quantitative","axis":null},"y":{"field":"y","type":"quantitative","axis":null},"text":{"field":"s"}}},
{"transform":[{"filter":"datum.sd=='b'"}],"mark":{"type":"text","fontSize":7,"baseline":"top","dy":1},"encoding":{"x":{"field":"m","type":"quantitative","axis":null},"y":{"field":"y","type":"quantitative","axis":null},"text":{"field":"s"}}}
],"resolve":{"axis":{"x":"independent","y":"independent"}}},
{"width":115,"height":82,"transform":[{"filter":"datum.ch=='C2'"}],"layer":[
{"mark":"rule","encoding":{"x":{"field":"p","type":"quantitative","scale":{"domain":[0.5,12.5],"nice":false,"zero":false},"axis":{"orient":"bottom","values":[1,2,3,4,5,6,7,8,9,10,11,12],"labelExpr":"datum.value%3==1?['-','-']:datum.value%3==2?['+','-']:['+','+']","labelFontSize":7,"labelLineHeight":9.5,"labelFlush":false,"labelOverlap":false,"title":["PL33","LY-411575"],"titleX":-4,"titleY":4,"titleAlign":"right","titleBaseline":"top","titleFontSize":6.5,"titleLineHeight":9.5}},"y":{"field":"mn","type":"quantitative","scale":{"domain":[0,118],"nice":false},"axis":{"orient":"left","title":"% LAG3+ T","values":[0,25,50,75,100]}},"y2":{"field":"mx"},"color":{"field":"c","type":"nominal","scale":{"domain":["c","p","l"],"range":["#000","#000","#1f3ff5"]},"legend":null}}},
{"mark":{"type":"bar","fill":"#fff","size":6,"strokeWidth":1},"encoding":{"x":{"field":"p","type":"quantitative","axis":null},"y":{"field":"q1","type":"quantitative","axis":null},"y2":{"field":"q3"},"stroke":{"field":"c","type":"nominal","scale":{"domain":["c","p","l"],"range":["#000","#000","#1f3ff5"]},"legend":null}}},
{"mark":{"type":"tick","orient":"horizontal","size":6,"thickness":1},"encoding":{"x":{"field":"p","type":"quantitative","axis":null},"y":{"field":"md","type":"quantitative","axis":null},"color":{"field":"c","type":"nominal","scale":{"domain":["c","p","l"],"range":["#000","#000","#1f3ff5"]},"legend":null}}},
{"mark":{"type":"rule","color":"#7a7a7a","strokeWidth":1.5},"encoding":{"x":{"datum":3.5,"axis":{"orient":"top","values":[2,3.5,5,8,9.5,11],"labelExpr":"datum.value==3.5?'normal donors':datum.value==9.5?'MM patients':[' ',datum.value%6==2?'d1':'d3']","domain":false,"ticks":false,"title":null,"labelPadding":9,"labelFontSize":6.8,"labelLineHeight":8,"labelFlush":false,"labelOverlap":false}}}},
{"mark":{"type":"rule","color":"#7a7a7a","strokeWidth":1.5},"encoding":{"x":{"datum":9.5,"axis":null}}},
{"mark":{"type":"text","text":" "},"encoding":{"x":{"datum":6.5,"axis":null},"y":{"datum":0,"axis":{"orient":"left","labels":false,"title":null,"values":[0,25,50,75,100],"offset":-57.5}}}},
{"mark":"rule","encoding":{"x":{"field":"a","type":"quantitative","axis":null},"x2":{"field":"b"},"y":{"field":"y","type":"quantitative","axis":null}}},
{"transform":[{"filter":"datum.sd=='a'"}],"mark":{"type":"text","fontSize":7,"baseline":"bottom","dy":2},"encoding":{"x":{"field":"m","type":"quantitative","axis":null},"y":{"field":"y","type":"quantitative","axis":null},"text":{"field":"s"}}},
{"transform":[{"filter":"datum.sd=='b'"}],"mark":{"type":"text","fontSize":7,"baseline":"top","dy":1},"encoding":{"x":{"field":"m","type":"quantitative","axis":null},"y":{"field":"y","type":"quantitative","axis":null},"text":{"field":"s"}}}
],"resolve":{"axis":{"x":"independent","y":"independent"}}},
{"width":115,"height":82,"transform":[{"filter":"datum.ch=='C3'"}],"layer":[
{"mark":"rule","encoding":{"x":{"field":"p","type":"quantitative","scale":{"domain":[0.5,12.5],"nice":false,"zero":false},"axis":{"orient":"bottom","values":[1,2,3,4,5,6,7,8,9,10,11,12],"labelExpr":"datum.value%3==1?['-','-']:datum.value%3==2?['+','-']:['+','+']","labelFontSize":7,"labelLineHeight":9.5,"labelFlush":false,"labelOverlap":false,"title":["PL33","LY-411575"],"titleX":-4,"titleY":4,"titleAlign":"right","titleBaseline":"top","titleFontSize":6.5,"titleLineHeight":9.5}},"y":{"field":"mn","type":"quantitative","scale":{"domain":[0,118],"nice":false},"axis":{"orient":"left","title":"% TIM3+ T","values":[0,25,50,75,100]}},"y2":{"field":"mx"},"color":{"field":"c","type":"nominal","scale":{"domain":["c","p","l"],"range":["#000","#000","#1f3ff5"]},"legend":null}}},
{"mark":{"type":"bar","fill":"#fff","size":6,"strokeWidth":1},"encoding":{"x":{"field":"p","type":"quantitative","axis":null},"y":{"field":"q1","type":"quantitative","axis":null},"y2":{"field":"q3"},"stroke":{"field":"c","type":"nominal","scale":{"domain":["c","p","l"],"range":["#000","#000","#1f3ff5"]},"legend":null}}},
{"mark":{"type":"tick","orient":"horizontal","size":6,"thickness":1},"encoding":{"x":{"field":"p","type":"quantitative","axis":null},"y":{"field":"md","type":"quantitative","axis":null},"color":{"field":"c","type":"nominal","scale":{"domain":["c","p","l"],"range":["#000","#000","#1f3ff5"]},"legend":null}}},
{"mark":{"type":"rule","color":"#7a7a7a","strokeWidth":1.5},"encoding":{"x":{"datum":3.5,"axis":{"orient":"top","values":[2,3.5,5,8,9.5,11],"labelExpr":"datum.value==3.5?'normal donors':datum.value==9.5?'MM patients':[' ',datum.value%6==2?'d1':'d3']","domain":false,"ticks":false,"title":null,"labelPadding":9,"labelFontSize":6.8,"labelLineHeight":8,"labelFlush":false,"labelOverlap":false}}}},
{"mark":{"type":"rule","color":"#7a7a7a","strokeWidth":1.5},"encoding":{"x":{"datum":9.5,"axis":null}}},
{"mark":{"type":"text","text":" "},"encoding":{"x":{"datum":6.5,"axis":null},"y":{"datum":0,"axis":{"orient":"left","labels":false,"title":null,"values":[0,25,50,75,100],"offset":-57.5}}}},
{"mark":"rule","encoding":{"x":{"field":"a","type":"quantitative","axis":null},"x2":{"field":"b"},"y":{"field":"y","type":"quantitative","axis":null}}},
{"transform":[{"filter":"datum.sd=='a'"}],"mark":{"type":"text","fontSize":7,"baseline":"bottom","dy":2},"encoding":{"x":{"field":"m","type":"quantitative","axis":null},"y":{"field":"y","type":"quantitative","axis":null},"text":{"field":"s"}}},
{"transform":[{"filter":"datum.sd=='b'"}],"mark":{"type":"text","fontSize":7,"baseline":"top","dy":1},"encoding":{"x":{"field":"m","type":"quantitative","axis":null},"y":{"field":"y","type":"quantitative","axis":null},"text":{"field":"s"}}}
],"resolve":{"axis":{"x":"independent","y":"independent"}}}
]}]},
{"title":{"text":"D","fontSize":22,"anchor":"start","offset":-15},"hconcat":[{"title":{"text":"T cell subsets","dx":116},"hconcat":[
{"width":115,"height":82,"transform":[{"filter":"datum.ch=='D1'"}],"layer":[
{"mark":"rule","encoding":{"x":{"field":"p","type":"quantitative","scale":{"domain":[0.5,12.5],"nice":false,"zero":false},"axis":{"orient":"bottom","values":[1,2,3,4,5,6,7,8,9,10,11,12],"labelExpr":"datum.value%3==1?['-','-']:datum.value%3==2?['+','-']:['+','+']","labelFontSize":7,"labelLineHeight":9.5,"labelFlush":false,"labelOverlap":false,"title":["PL33","LY-411575"],"titleX":-4,"titleY":4,"titleAlign":"right","titleBaseline":"top","titleFontSize":6.5,"titleLineHeight":9.5}},"y":{"field":"mn","type":"quantitative","scale":{"domain":[0,50],"nice":false},"axis":{"orient":"left","title":"% EM T","values":[0,10,20,30,40,50]}},"y2":{"field":"mx"},"color":{"field":"c","type":"nominal","scale":{"domain":["c","p","l"],"range":["#000","#000","#1f3ff5"]},"legend":null}}},
{"mark":{"type":"bar","fill":"#fff","size":6,"strokeWidth":1},"encoding":{"x":{"field":"p","type":"quantitative","axis":null},"y":{"field":"q1","type":"quantitative","axis":null},"y2":{"field":"q3"},"stroke":{"field":"c","type":"nominal","scale":{"domain":["c","p","l"],"range":["#000","#000","#1f3ff5"]},"legend":null}}},
{"mark":{"type":"tick","orient":"horizontal","size":6,"thickness":1},"encoding":{"x":{"field":"p","type":"quantitative","axis":null},"y":{"field":"md","type":"quantitative","axis":null},"color":{"field":"c","type":"nominal","scale":{"domain":["c","p","l"],"range":["#000","#000","#1f3ff5"]},"legend":null}}},
{"mark":{"type":"rule","color":"#7a7a7a","strokeWidth":1.5},"encoding":{"x":{"datum":3.5,"axis":{"orient":"top","values":[2,3.5,5,8,9.5,11],"labelExpr":"datum.value==3.5?'normal donors':datum.value==9.5?'MM patients':[' ',datum.value%6==2?'d1':'d3']","domain":false,"ticks":false,"title":null,"labelPadding":9,"labelFontSize":6.8,"labelLineHeight":8,"labelFlush":false,"labelOverlap":false}}}},
{"mark":{"type":"rule","color":"#7a7a7a","strokeWidth":1.5},"encoding":{"x":{"datum":9.5,"axis":null}}},
{"mark":{"type":"text","text":" "},"encoding":{"x":{"datum":6.5,"axis":null},"y":{"datum":0,"axis":{"orient":"left","labels":false,"title":null,"values":[0,10,20,30,40,50],"offset":-57.5}}}},
{"mark":"rule","encoding":{"x":{"field":"a","type":"quantitative","axis":null},"x2":{"field":"b"},"y":{"field":"y","type":"quantitative","axis":null}}},
{"transform":[{"filter":"datum.sd=='a'"}],"mark":{"type":"text","fontSize":7,"baseline":"bottom","dy":2},"encoding":{"x":{"field":"m","type":"quantitative","axis":null},"y":{"field":"y","type":"quantitative","axis":null},"text":{"field":"s"}}},
{"transform":[{"filter":"datum.sd=='b'"}],"mark":{"type":"text","fontSize":7,"baseline":"top","dy":1},"encoding":{"x":{"field":"m","type":"quantitative","axis":null},"y":{"field":"y","type":"quantitative","axis":null},"text":{"field":"s"}}}
],"resolve":{"axis":{"x":"independent","y":"independent"}}},
{"width":115,"height":82,"transform":[{"filter":"datum.ch=='D2'"}],"layer":[
{"mark":"rule","encoding":{"x":{"field":"p","type":"quantitative","scale":{"domain":[0.5,12.5],"nice":false,"zero":false},"axis":{"orient":"bottom","values":[1,2,3,4,5,6,7,8,9,10,11,12],"labelExpr":"datum.value%3==1?['-','-']:datum.value%3==2?['+','-']:['+','+']","labelFontSize":7,"labelLineHeight":9.5,"labelFlush":false,"labelOverlap":false,"title":["PL33","LY-411575"],"titleX":-4,"titleY":4,"titleAlign":"right","titleBaseline":"top","titleFontSize":6.5,"titleLineHeight":9.5}},"y":{"field":"mn","type":"quantitative","scale":{"domain":[0,100],"nice":false},"axis":{"orient":"left","title":"% TEMRA T","values":[0,20,40,60,80,100]}},"y2":{"field":"mx"},"color":{"field":"c","type":"nominal","scale":{"domain":["c","p","l"],"range":["#000","#000","#1f3ff5"]},"legend":null}}},
{"mark":{"type":"bar","fill":"#fff","size":6,"strokeWidth":1},"encoding":{"x":{"field":"p","type":"quantitative","axis":null},"y":{"field":"q1","type":"quantitative","axis":null},"y2":{"field":"q3"},"stroke":{"field":"c","type":"nominal","scale":{"domain":["c","p","l"],"range":["#000","#000","#1f3ff5"]},"legend":null}}},
{"mark":{"type":"tick","orient":"horizontal","size":6,"thickness":1},"encoding":{"x":{"field":"p","type":"quantitative","axis":null},"y":{"field":"md","type":"quantitative","axis":null},"color":{"field":"c","type":"nominal","scale":{"domain":["c","p","l"],"range":["#000","#000","#1f3ff5"]},"legend":null}}},
{"mark":{"type":"rule","color":"#7a7a7a","strokeWidth":1.5},"encoding":{"x":{"datum":3.5,"axis":{"orient":"top","values":[2,3.5,5,8,9.5,11],"labelExpr":"datum.value==3.5?'normal donors':datum.value==9.5?'MM patients':[' ',datum.value%6==2?'d1':'d3']","domain":false,"ticks":false,"title":null,"labelPadding":9,"labelFontSize":6.8,"labelLineHeight":8,"labelFlush":false,"labelOverlap":false}}}},
{"mark":{"type":"rule","color":"#7a7a7a","strokeWidth":1.5},"encoding":{"x":{"datum":9.5,"axis":null}}},
{"mark":{"type":"text","text":" "},"encoding":{"x":{"datum":6.5,"axis":null},"y":{"datum":0,"axis":{"orient":"left","labels":false,"title":null,"values":[0,20,40,60,80,100],"offset":-57.5}}}},
{"mark":"rule","encoding":{"x":{"field":"a","type":"quantitative","axis":null},"x2":{"field":"b"},"y":{"field":"y","type":"quantitative","axis":null}}},
{"transform":[{"filter":"datum.sd=='a'"}],"mark":{"type":"text","fontSize":7,"baseline":"bottom","dy":2},"encoding":{"x":{"field":"m","type":"quantitative","axis":null},"y":{"field":"y","type":"quantitative","axis":null},"text":{"field":"s"}}},
{"transform":[{"filter":"datum.sd=='b'"}],"mark":{"type":"text","fontSize":7,"baseline":"top","dy":1},"encoding":{"x":{"field":"m","type":"quantitative","axis":null},"y":{"field":"y","type":"quantitative","axis":null},"text":{"field":"s"}}}
],"resolve":{"axis":{"x":"independent","y":"independent"}}}
]}]}
]},
{"hconcat":[
{"title":{"text":"E","fontSize":22,"anchor":"start","offset":-15},"hconcat":[{"title":{"text":"T cell regulatory function","dx":167},"hconcat":[
{"width":115,"height":82,"transform":[{"filter":"datum.ch=='E1'"}],"layer":[
{"mark":"rule","encoding":{"x":{"field":"p","type":"quantitative","scale":{"domain":[0.5,12.5],"nice":false,"zero":false},"axis":{"orient":"bottom","values":[1,2,3,4,5,6,7,8,9,10,11,12],"labelExpr":"datum.value%3==1?['-','-']:datum.value%3==2?['+','-']:['+','+']","labelFontSize":7,"labelLineHeight":9.5,"labelFlush":false,"labelOverlap":false,"title":["PL33","LY-411575"],"titleX":-4,"titleY":4,"titleAlign":"right","titleBaseline":"top","titleFontSize":6.5,"titleLineHeight":9.5}},"y":{"field":"mn","type":"quantitative","scale":{"domain":[0,40],"nice":false},"axis":{"orient":"left","title":"% Treg in T","values":[0,8,16,24,32,40]}},"y2":{"field":"mx"},"color":{"field":"c","type":"nominal","scale":{"domain":["c","p","l"],"range":["#000","#000","#1f3ff5"]},"legend":null}}},
{"mark":{"type":"bar","fill":"#fff","size":6,"strokeWidth":1},"encoding":{"x":{"field":"p","type":"quantitative","axis":null},"y":{"field":"q1","type":"quantitative","axis":null},"y2":{"field":"q3"},"stroke":{"field":"c","type":"nominal","scale":{"domain":["c","p","l"],"range":["#000","#000","#1f3ff5"]},"legend":null}}},
{"mark":{"type":"tick","orient":"horizontal","size":6,"thickness":1},"encoding":{"x":{"field":"p","type":"quantitative","axis":null},"y":{"field":"md","type":"quantitative","axis":null},"color":{"field":"c","type":"nominal","scale":{"domain":["c","p","l"],"range":["#000","#000","#1f3ff5"]},"legend":null}}},
{"mark":{"type":"rule","color":"#7a7a7a","strokeWidth":1.5},"encoding":{"x":{"datum":3.5,"axis":{"orient":"top","values":[2,3.5,5,8,9.5,11],"labelExpr":"datum.value==3.5?'normal donors':datum.value==9.5?'MM patients':[' ',datum.value%6==2?'d1':'d3']","domain":false,"ticks":false,"title":null,"labelPadding":9,"labelFontSize":6.8,"labelLineHeight":8,"labelFlush":false,"labelOverlap":false}}}},
{"mark":{"type":"rule","color":"#7a7a7a","strokeWidth":1.5},"encoding":{"x":{"datum":9.5,"axis":null}}},
{"mark":{"type":"text","text":" "},"encoding":{"x":{"datum":6.5,"axis":null},"y":{"datum":0,"axis":{"orient":"left","labels":false,"title":null,"values":[0,8,16,24,32,40],"offset":-57.5}}}},
{"mark":"rule","encoding":{"x":{"field":"a","type":"quantitative","axis":null},"x2":{"field":"b"},"y":{"field":"y","type":"quantitative","axis":null}}},
{"transform":[{"filter":"datum.sd=='a'"}],"mark":{"type":"text","fontSize":7,"baseline":"bottom","dy":2},"encoding":{"x":{"field":"m","type":"quantitative","axis":null},"y":{"field":"y","type":"quantitative","axis":null},"text":{"field":"s"}}},
{"transform":[{"filter":"datum.sd=='b'"}],"mark":{"type":"text","fontSize":7,"baseline":"top","dy":1},"encoding":{"x":{"field":"m","type":"quantitative","axis":null},"y":{"field":"y","type":"quantitative","axis":null},"text":{"field":"s"}}}
],"resolve":{"axis":{"x":"independent","y":"independent"}}},
{"width":115,"height":82,"transform":[{"filter":"datum.ch=='E2'"}],"layer":[
{"mark":"rule","encoding":{"x":{"field":"p","type":"quantitative","scale":{"domain":[0.5,12.5],"nice":false,"zero":false},"axis":{"orient":"bottom","values":[1,2,3,4,5,6,7,8,9,10,11,12],"labelExpr":"datum.value%3==1?['-','-']:datum.value%3==2?['+','-']:['+','+']","labelFontSize":7,"labelLineHeight":9.5,"labelFlush":false,"labelOverlap":false,"title":["PL33","LY-411575"],"titleX":-4,"titleY":4,"titleAlign":"right","titleBaseline":"top","titleFontSize":6.5,"titleLineHeight":9.5}},"y":{"field":"mn","type":"quantitative","scale":{"domain":[0,50],"nice":false},"axis":{"orient":"left","title":"% IL-10+ T","values":[0,10,20,30,40,50]}},"y2":{"field":"mx"},"color":{"field":"c","type":"nominal","scale":{"domain":["c","p","l"],"range":["#000","#000","#1f3ff5"]},"legend":null}}},
{"mark":{"type":"bar","fill":"#fff","size":6,"strokeWidth":1},"encoding":{"x":{"field":"p","type":"quantitative","axis":null},"y":{"field":"q1","type":"quantitative","axis":null},"y2":{"field":"q3"},"stroke":{"field":"c","type":"nominal","scale":{"domain":["c","p","l"],"range":["#000","#000","#1f3ff5"]},"legend":null}}},
{"mark":{"type":"tick","orient":"horizontal","size":6,"thickness":1},"encoding":{"x":{"field":"p","type":"quantitative","axis":null},"y":{"field":"md","type":"quantitative","axis":null},"color":{"field":"c","type":"nominal","scale":{"domain":["c","p","l"],"range":["#000","#000","#1f3ff5"]},"legend":null}}},
{"mark":{"type":"rule","color":"#7a7a7a","strokeWidth":1.5},"encoding":{"x":{"datum":3.5,"axis":{"orient":"top","values":[2,3.5,5,8,9.5,11],"labelExpr":"datum.value==3.5?'normal donors':datum.value==9.5?'MM patients':[' ',datum.value%6==2?'d1':'d3']","domain":false,"ticks":false,"title":null,"labelPadding":9,"labelFontSize":6.8,"labelLineHeight":8,"labelFlush":false,"labelOverlap":false}}}},
{"mark":{"type":"rule","color":"#7a7a7a","strokeWidth":1.5},"encoding":{"x":{"datum":9.5,"axis":null}}},
{"mark":{"type":"text","text":" "},"encoding":{"x":{"datum":6.5,"axis":null},"y":{"datum":0,"axis":{"orient":"left","labels":false,"title":null,"values":[0,10,20,30,40,50],"offset":-57.5}}}},
{"mark":"rule","encoding":{"x":{"field":"a","type":"quantitative","axis":null},"x2":{"field":"b"},"y":{"field":"y","type":"quantitative","axis":null}}},
{"transform":[{"filter":"datum.sd=='a'"}],"mark":{"type":"text","fontSize":7,"baseline":"bottom","dy":2},"encoding":{"x":{"field":"m","type":"quantitative","axis":null},"y":{"field":"y","type":"quantitative","axis":null},"text":{"field":"s"}}},
{"transform":[{"filter":"datum.sd=='b'"}],"mark":{"type":"text","fontSize":7,"baseline":"top","dy":1},"encoding":{"x":{"field":"m","type":"quantitative","axis":null},"y":{"field":"y","type":"quantitative","axis":null},"text":{"field":"s"}}}
],"resolve":{"axis":{"x":"independent","y":"independent"}}},
{"width":115,"height":82,"transform":[{"filter":"datum.ch=='E3'"}],"layer":[
{"mark":"rule","encoding":{"x":{"field":"p","type":"quantitative","scale":{"domain":[0.5,12.5],"nice":false,"zero":false},"axis":{"orient":"bottom","values":[1,2,3,4,5,6,7,8,9,10,11,12],"labelExpr":"datum.value%3==1?['-','-']:datum.value%3==2?['+','-']:['+','+']","labelFontSize":7,"labelLineHeight":9.5,"labelFlush":false,"labelOverlap":false,"title":["PL33","LY-411575"],"titleX":-4,"titleY":4,"titleAlign":"right","titleBaseline":"top","titleFontSize":6.5,"titleLineHeight":9.5}},"y":{"field":"mn","type":"quantitative","scale":{"domain":[0,100],"nice":false},"axis":{"orient":"left","title":"% TGFβ1+ T","values":[0,20,40,60,80,100]}},"y2":{"field":"mx"},"color":{"field":"c","type":"nominal","scale":{"domain":["c","p","l"],"range":["#000","#000","#1f3ff5"]},"legend":null}}},
{"mark":{"type":"bar","fill":"#fff","size":6,"strokeWidth":1},"encoding":{"x":{"field":"p","type":"quantitative","axis":null},"y":{"field":"q1","type":"quantitative","axis":null},"y2":{"field":"q3"},"stroke":{"field":"c","type":"nominal","scale":{"domain":["c","p","l"],"range":["#000","#000","#1f3ff5"]},"legend":null}}},
{"mark":{"type":"tick","orient":"horizontal","size":6,"thickness":1},"encoding":{"x":{"field":"p","type":"quantitative","axis":null},"y":{"field":"md","type":"quantitative","axis":null},"color":{"field":"c","type":"nominal","scale":{"domain":["c","p","l"],"range":["#000","#000","#1f3ff5"]},"legend":null}}},
{"mark":{"type":"rule","color":"#7a7a7a","strokeWidth":1.5},"encoding":{"x":{"datum":3.5,"axis":{"orient":"top","values":[2,3.5,5,8,9.5,11],"labelExpr":"datum.value==3.5?'normal donors':datum.value==9.5?'MM patient':[' ',datum.value%6==2?'d1':'d3']","domain":false,"ticks":false,"title":null,"labelPadding":9,"labelFontSize":6.8,"labelLineHeight":8,"labelFlush":false,"labelOverlap":false}}}},
{"mark":{"type":"rule","color":"#7a7a7a","strokeWidth":1.5},"encoding":{"x":{"datum":9.5,"axis":null}}},
{"mark":{"type":"text","text":" "},"encoding":{"x":{"datum":6.5,"axis":null},"y":{"datum":0,"axis":{"orient":"left","labels":false,"title":null,"values":[0,20,40,60,80,100],"offset":-57.5}}}},
{"mark":"rule","encoding":{"x":{"field":"a","type":"quantitative","axis":null},"x2":{"field":"b"},"y":{"field":"y","type":"quantitative","axis":null}}},
{"transform":[{"filter":"datum.sd=='a'"}],"mark":{"type":"text","fontSize":7,"baseline":"bottom","dy":2},"encoding":{"x":{"field":"m","type":"quantitative","axis":null},"y":{"field":"y","type":"quantitative","axis":null},"text":{"field":"s"}}},
{"transform":[{"filter":"datum.sd=='b'"}],"mark":{"type":"text","fontSize":7,"baseline":"top","dy":1},"encoding":{"x":{"field":"m","type":"quantitative","axis":null},"y":{"field":"y","type":"quantitative","axis":null},"text":{"field":"s"}}}
],"resolve":{"axis":{"x":"independent","y":"independent"}}}
]}]}
]}
]
}
